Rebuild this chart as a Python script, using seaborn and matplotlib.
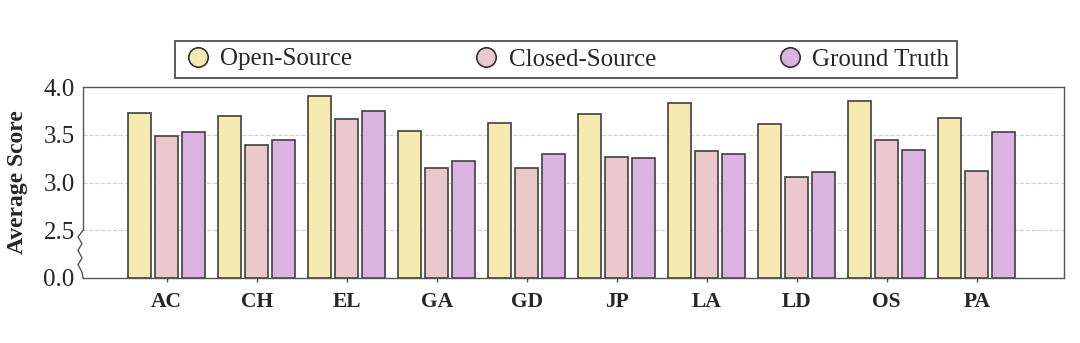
import numpy as np
import pandas as pd
import matplotlib
matplotlib.use("Agg")
import matplotlib.pyplot as plt
from matplotlib.lines import Line2D
from matplotlib.transforms import blended_transform_factory
import seaborn as sns

categories = ["AC", "CH", "EL", "GA", "GD", "JP", "LA", "LD", "OS", "PA"]
open_source = [3.73, 3.70, 3.91, 3.54, 3.62, 3.72, 3.83, 3.61, 3.85, 3.68]
closed_source = [3.49, 3.39, 3.66, 3.15, 3.15, 3.27, 3.33, 3.06, 3.44, 3.12]
ground_truth = [3.53, 3.45, 3.75, 3.22, 3.30, 3.26, 3.30, 3.11, 3.34, 3.53]
series_names = ["Open-Source", "Closed-Source", "Ground Truth"]
colors = ["#F6EAB0", "#EBC8CC", "#DAB3E1"]
yticks = [0.0, 2.5, 3.0, 3.5, 4.0]

df = pd.DataFrame({
    "Category": categories * 3,
    "Source": sum([[s] * len(categories) for s in series_names], []),
    "Score": open_source + closed_source + ground_truth,
})

sns.set_theme(style="white")
plt.rcParams["font.family"] = ["Liberation Serif", "DejaVu Serif"]

fig = plt.figure(figsize=(10.8, 3.43), dpi=100)
ax = fig.add_axes([83 / 1080, 1 - 278 / 343, (1064 - 83) / 1080, (278 - 87) / 343])

def fwd(y):
    y = np.asarray(y, dtype=float)
    return np.where(y >= 2.5, y - 2.0, y / 5.0)

def inv(u):
    u = np.asarray(u, dtype=float)
    return np.where(u >= 0.5, u + 2.0, u * 5.0)

ax.set_yscale("function", functions=(fwd, inv))

sns.barplot(data=df, x="Category", y="Score", hue="Source", hue_order=series_names,
            palette=colors, saturation=1, edgecolor="#404040", linewidth=1.2,
            width=0.9, gap=0.17, errorbar=None, legend=False, ax=ax, zorder=3)

ax.set_ylim(0, 4.0)
ax.set_xlim(-0.93, 9.97)
ax.set_yticks(yticks)
ax.set_yticklabels([f"{t:.1f}" for t in yticks], fontsize=18)
ax.set_xticks(range(len(categories)))
ax.set_xticklabels(categories, fontsize=15.5, fontweight="bold")
ax.set_xlabel("")
ax.set_ylabel("Average Score", fontsize=17, fontweight="bold", labelpad=11)
ax.tick_params(axis="y", length=0, pad=6)
ax.tick_params(axis="x", length=3, width=1, color="#555555", pad=7, bottom=True, direction="out")

for t in [2.5, 3.0, 3.5]:
    ax.axhline(t, color="#d0d0d0", linestyle="--", linewidth=0.8, zorder=0)

for side in ["top", "right", "bottom"]:
    ax.spines[side].set_color("#555555")
    ax.spines[side].set_linewidth(1.0)
ax.spines["left"].set_visible(False)

tr = blended_transform_factory(ax.transAxes, ax.transData)
ax.plot([0, 0], [2.5, 4.0], transform=tr, color="#555555", lw=1.0, clip_on=False, zorder=5)
px = 1.0 / 981
wx = np.array([0, -5, -1, -5, -1, -5, -1, 0]) * px
wy = np.array([2.5, 2.15, 1.8, 1.45, 1.05, 0.7, 0.3, 0.0])
ax.plot(wx, wy, transform=tr, color="#555555", lw=1.0, clip_on=False, zorder=5)

handles = [Line2D([0], [0], marker="o", linestyle="", markersize=14,
                  markerfacecolor=c, markeredgecolor="#333333", markeredgewidth=1.2)
           for c in colors]
leg = fig.legend(handles, series_names, ncol=3, loc="lower left",
                 bbox_to_anchor=(175 / 1080, 1 - 78 / 343, 782 / 1080, 43 / 343),
                 mode="expand", fontsize=18, frameon=True, fancybox=False,
                 handlelength=1.2, handletextpad=0.3, borderaxespad=0, borderpad=0.3)
leg.get_frame().set_edgecolor("#222222")
leg.get_frame().set_linewidth(1.3)

fig.savefig("out.png", dpi=100)
